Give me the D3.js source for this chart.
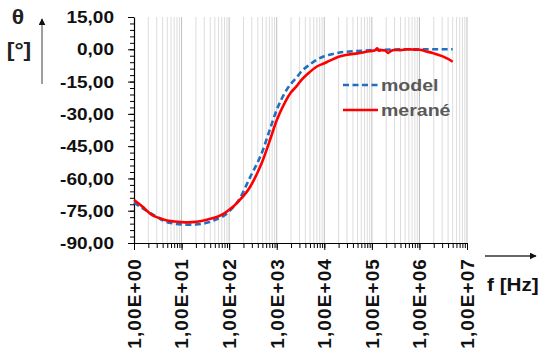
<!DOCTYPE html>
<html>
<head>
<meta charset="utf-8">
<script src="https://cdn.jsdelivr.net/npm/d3@7"></script>
<style>
  body { margin: 0; background: #fff; }
  text { font-family: "Liberation Sans", Arial, sans-serif; font-weight: bold; }
</style>
</head>
<body>
<div id="chart"></div>
<script>
// Data
var modelFreq = [1, 1.5, 2, 3, 4.5, 7, 10, 14, 20, 37, 50, 82, 100, 160, 275, 513, 700, 1000,
    1500, 2000, 2650, 3100, 5000, 7000, 1e4, 1.3e4, 2e4, 5e4, 1e5, 3e5, 1e6, 5e6];
var modelPhase = [-71.2, -73.8, -75.5, -77.8, -80, -81, -81.4, -81.5, -81.4, -80.4, -79.3, -77, -75.3, -70, -59.5, -46.8, -38, -28.2,
    -20, -16, -13, -11, -7, -4.8, -3.2, -2.5, -1.6, -0.8, -0.4, -0.1, 0, 0];

var measFreq = [1, 1.5, 2.4, 3.5, 4.5, 7, 10, 14, 20, 37, 60, 82, 100, 160, 275, 400, 513, 700, 1000,
    1500, 2000, 2650, 3100, 5000, 7000, 1e4, 1.3e4, 2e4, 3e4, 5e4, 6.5e4, 8e4, 1e5, 1.2e5, 1.3e5, 1.4e5,
    1.6e5, 1.9e5, 2.2e5, 2.5e5, 3e5, 4e5, 5.5e5, 7e5, 1e6, 1.4e6, 2e6, 3e6, 4e6, 5e6];
var measPhase = [-70, -73.1, -77, -78.5, -79.3, -80, -80.3, -80.4, -80.2, -79, -77.6, -76, -74.6, -70.5, -64, -57, -51.4, -43, -33,
    -24.5, -20, -17, -15, -10.5, -8, -6.5, -5.3, -3.5, -2.5, -1.9, -1.5, -1.0, -0.8, -0.3, 0.5, -0.6,
    -0.4, -0.6, -1.7, -0.8, -0.3, -0.4, 0, -0.1, -0.2, -1.0, -1.9, -3.2, -4.5, -5.8];

var yTicks = [15, 0, -15, -30, -45, -60, -75, -90];
var xTicks = [1, 10, 100, 1e3, 1e4, 1e5, 1e6, 1e7];
var xTickLabels = ["1,00E+00", "1,00E+01", "1,00E+02", "1,00E+03", "1,00E+04", "1,00E+05", "1,00E+06", "1,00E+07"];
var seriesNames = ["model", "merané"];

var svgWidth = 549;
var svgHeight = 349;
var margin = { top: 17, right: 82, bottom: 106, left: 134 };
var width = svgWidth - margin.left - margin.right;
var height = svgHeight - margin.top - margin.bottom;

var svg = d3.select("#chart")
    .append("svg")
    .attr("width", svgWidth)
    .attr("height", svgHeight);

var Group = svg.append("g")
    .attr("transform", `translate(${margin.left}, ${margin.top})`);

// Scales
var xScale = d3.scaleLog().domain([1, 1e7]).range([0, width]);
var yScale = d3.scaleLinear().domain([-90, 15]).range([height, 0]);

// Vertical grid lines (every 1..9 x decade)
var gridVals = [];
for (var k = 0; k < 7; k++) {
    for (var m = 1; m <= 9; m++) gridVals.push(m * Math.pow(10, k));
}
gridVals.push(1e7);
Group.selectAll(".grid")
    .data(gridVals.filter(d => d > 1))
    .enter()
    .append("line")
    .attr("x1", d => xScale(d))
    .attr("x2", d => xScale(d))
    .attr("y1", 0)
    .attr("y2", height)
    .attr("stroke", d => xTicks.indexOf(d) >= 0 ? "#bfbfbf" : "#dcdcdc")
    .attr("stroke-width", 1);

// Y axis with minor ticks
var yMinor = d3.range(-90, 15.01, 3);
Group.append("g")
    .call(d3.axisLeft(yScale).tickValues(yMinor).tickSize(4).tickFormat(""))
    .call(g => g.select(".domain").remove());
var yAxis = Group.append("g")
    .call(d3.axisLeft(yScale).tickValues(yTicks).tickSize(6).tickSizeOuter(0).tickFormat(""));
yAxis.selectAll("line").attr("stroke", "#000");
yAxis.select(".domain").attr("stroke", "#000").attr("stroke-width", 1.2);

Group.selectAll(".ylab")
    .data(yTicks)
    .enter()
    .append("text")
    .attr("transform", d => `translate(-20, ${yScale(d)}) scale(1.12, 1)`)
    .attr("dy", "0.36em")
    .attr("text-anchor", "end")
    .style("font-size", "17px")
    .style("fill", "#111")
    .text(d => d.toFixed(2).replace(".", ","));

// X axis with minor ticks
Group.append("g")
    .attr("transform", `translate(0, ${height})`)
    .call(d3.axisBottom(xScale).tickValues(gridVals).tickSize(5).tickFormat(""))
    .call(g => g.select(".domain").remove());
var xAxis = Group.append("g")
    .attr("transform", `translate(0, ${height})`)
    .call(d3.axisBottom(xScale).tickValues(xTicks).tickSize(7).tickSizeOuter(0).tickFormat(""));
xAxis.selectAll("line").attr("stroke", "#000");
xAxis.select(".domain").attr("stroke", "#000").attr("stroke-width", 1.2);

Group.selectAll(".xlab")
    .data(xTicks)
    .enter()
    .append("text")
    .attr("transform", d => `translate(${xScale(d)}, ${height + 15}) rotate(-90)`)
    .attr("dy", "0.36em")
    .attr("text-anchor", "end")
    .style("font-size", "19px")
    .style("letter-spacing", "1.1px")
    .style("fill", "#111")
    .text((d, i) => xTickLabels[i]);

// Lines
var line = d3.line()
    .x(d => xScale(d[0]))
    .y(d => yScale(d[1]))
    .curve(d3.curveMonotoneX);

Group.append("path")
    .datum(modelFreq.map((f, i) => [f, modelPhase[i]]))
    .attr("d", line)
    .attr("fill", "none")
    .attr("stroke", "#1f70c1")
    .attr("stroke-width", 2.6)
    .attr("stroke-dasharray", "6,3.5");

Group.append("path")
    .datum(measFreq.map((f, i) => [f, measPhase[i]]))
    .attr("d", line)
    .attr("fill", "none")
    .attr("stroke", "#ff0000")
    .attr("stroke-width", 2.6);

// Legend
var legend = svg.append("g").attr("transform", "translate(343, 85)");
seriesNames.forEach(function(name, i) {
    legend.append("line")
        .attr("x1", 0).attr("x2", 35)
        .attr("y1", i * 25).attr("y2", i * 25)
        .attr("stroke", i == 0 ? "#1f70c1" : "#ff0000")
        .attr("stroke-width", 2.6)
        .attr("stroke-dasharray", i == 0 ? "6,3.5" : null);
    legend.append("text")
        .attr("transform", `translate(38, ${i * 25}) scale(1.15, 1)`)
        .attr("dy", "0.36em")
        .style("font-size", "17px")
        .style("fill", "#595959")
        .text(name);
});

// Axis titles and arrows
svg.append("defs").append("marker")
    .attr("id", "arrow")
    .attr("viewBox", "0 0 10 10")
    .attr("refX", 9).attr("refY", 5)
    .attr("markerWidth", 7).attr("markerHeight", 7)
    .attr("markerUnits", "userSpaceOnUse")
    .attr("orient", "auto")
    .append("path")
    .attr("d", "M0,0 L10,5 L0,10 z")
    .attr("fill", "#111");

svg.append("line")
    .attr("x1", 42).attr("y1", 84)
    .attr("x2", 42).attr("y2", 19)
    .attr("stroke", "#7f7f7f")
    .attr("stroke-width", 1.5)
    .attr("marker-end", "url(#arrow)");

svg.append("line")
    .attr("x1", 485).attr("y1", 256)
    .attr("x2", 536).attr("y2", 256)
    .attr("stroke", "#333")
    .attr("stroke-width", 1.5)
    .attr("marker-end", "url(#arrow)");

svg.append("text")
    .attr("transform", "translate(18, 17) scale(1.15, 1)")
    .attr("dy", "0.36em")
    .attr("text-anchor", "middle")
    .style("font-size", "20px")
    .style("fill", "#222")
    .text("θ");

svg.append("text")
    .attr("transform", "translate(19, 50) scale(1.15, 1)")
    .attr("dy", "0.36em")
    .attr("text-anchor", "middle")
    .style("font-size", "20px")
    .style("fill", "#222")
    .text("[°]");

svg.append("text")
    .attr("transform", "translate(487, 285) scale(1.15, 1)")
    .attr("dy", "0.36em")
    .style("font-size", "18px")
    .style("fill", "#111")
    .text("f [Hz]");
</script>
</body>
</html>
